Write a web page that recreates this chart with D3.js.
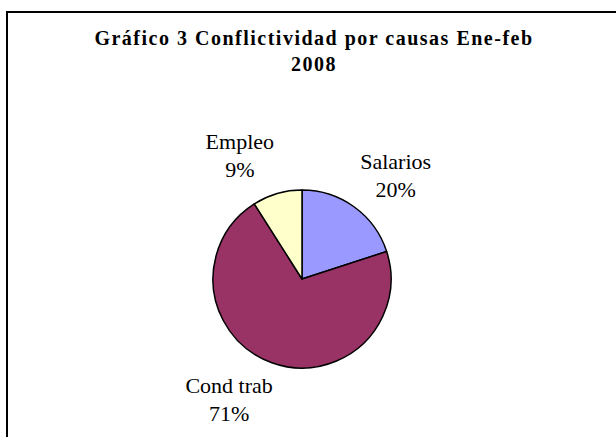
<!DOCTYPE html>
<html>
<head>
<meta charset="utf-8">
<script src="https://cdn.jsdelivr.net/npm/d3@7"></script>
<style>
  body { margin: 0; background: #fff; }
  svg { display: block; }
</style>
</head>
<body>
<svg id="chart" width="616" height="437"></svg>
<script>
// data
var categories = ["Salarios", "Cond trab", "Empleo"];
var shares = [20, 71, 9];
var colors = ["#9999FF", "#993366", "#FFFFCC"];
var titleLines = ["Gráfico 3 Conflictividad por causas Ene-feb", "2008"];

var serif = "'Liberation Serif'";

function init() {
    var svg = d3.select("#chart");

    // outer frame (runs off the right and bottom edges)
    svg.append("rect")
        .attr("x", 7).attr("y", 12)
        .attr("width", 630).attr("height", 450)
        .attr("fill", "#fff")
        .attr("stroke", "#000")
        .attr("stroke-width", 2);

    // title
    svg.append("g").selectAll("text")
        .data(titleLines)
        .enter()
        .append("text")
        .style("font-family", serif)
        .style("font-weight", "bold")
        .style("font-size", "20px")
        .style("letter-spacing", "1.5px")
        .attr("text-anchor", "middle")
        .attr("x", 314)
        .attr("y", function (d, i) { return 45 + i * 26; })
        .text(function (d) { return d; });

    var cx = 302, cy = 279, r = 89;
    var g = svg.append("g").attr("transform", "translate(" + cx + "," + cy + ")");

    var data = categories.map(function (c, i) {
        return { name: c, value: shares[i], color: colors[i] };
    });

    var pie = d3.pie()
        .sort(null)
        .value(function (d) { return d.value; });
    var arc = d3.arc().innerRadius(0).outerRadius(r);
    var arcs = pie(data);

    g.selectAll("path")
        .data(arcs)
        .enter()
        .append("path")
        .attr("d", arc)
        .attr("fill", function (d) { return d.data.color; })
        .attr("stroke", "#000")
        .attr("stroke-width", 1.5)
        .attr("stroke-linejoin", "round");

    var total = d3.sum(shares);

    //labels outside the pie, pushed along the mid angle
    var lab = g.selectAll("g.lab")
        .data(arcs)
        .enter()
        .append("g")
        .attr("class", "lab")
        .attr("transform", function (d) {
            var a = (d.startAngle + d.endAngle) / 2;
            var lx = -12 + Math.sin(a) * r * 2.02;
            var ly = -Math.cos(a) * r * 1.44;
            return "translate(" + lx + "," + ly + ")";
        });

    lab.append("text")
        .style("font-family", serif)
        .style("font-size", "22px")
        .attr("text-anchor", "middle")
        .attr("y", -6.5)
        .text(function (d) { return d.data.name; });

    lab.append("text")
        .style("font-family", serif)
        .style("font-size", "22px")
        .attr("text-anchor", "middle")
        .attr("y", 21.5)
        .text(function (d) { return Math.round(d.data.value / total * 100) + "%"; });
}

init();
</script>
</body>
</html>
